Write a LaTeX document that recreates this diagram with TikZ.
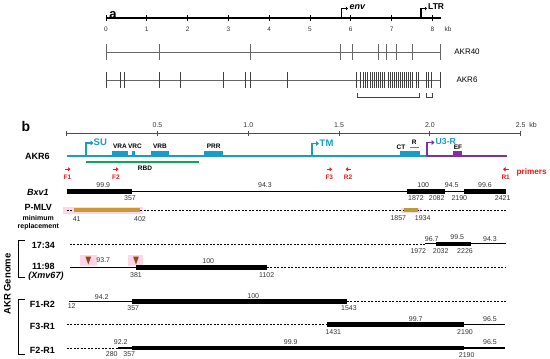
\documentclass[tikz,border=0pt]{standalone}
\usepackage{fontspec}
\setmainfont{Liberation Sans}
\usetikzlibrary{arrows.meta}

\definecolor{envteal}{RGB}{24,156,200}
\definecolor{ltrpurple}{RGB}{128,48,160}
\definecolor{rbdgreen}{RGB}{0,176,80}
\definecolor{pmlvgold}{RGB}{206,150,52}
\definecolor{pmlvolive}{RGB}{180,160,50}
\definecolor{hilite}{RGB}{255,214,232}
\definecolor{mutbrown}{RGB}{150,70,20}
\definecolor{primred}{RGB}{240,20,20}

% bp position on the panel b scale
\newcommand{\bp}[1]{66.7+0.1816*#1}

\tikzset{
  num/.style={font=\fontsize{7}{8}\selectfont, inner sep=0pt, text=black!80},
  rowlbl/.style={font=\bfseries\fontsize{9}{10}\selectfont, inner sep=0pt},
  dom/.style={font=\bfseries\fontsize{6.5}{7}\selectfont, inner sep=0pt},
  seg/.style={line width=1.2pt},
  bar/.style={line width=4.5pt},
  gap/.style={line width=0.6pt, dash pattern=on 2pt off 1.5pt},
  prom/.style={line width=1.8pt, -{Triangle[length=3pt,width=5pt]}},
  primer/.style={primred, line width=1.2pt, -{Triangle[length=2.5pt,width=4pt]}},
}

\begin{document}
\begin{tikzpicture}[x=1pt,y=-1pt]
\useasboundingbox (0,0) rectangle (550,359);

% panel a
\node[font=\bfseries\fontsize{13}{14}\selectfont] (pa) at (113,15) {a};
\draw[line width=1.3pt] (106,18) -- (441,18);
\foreach \k in {0,...,8} {
  \draw[line width=0.9pt] (106+40.8*\k,15) -- (106+40.8*\k,21);
  \node[num,font=\fontsize{6.5}{7}\selectfont] (kb\k) at (106+40.8*\k,29) {\k};
}
\node[num,font=\fontsize{6.5}{7}\selectfont] (kbunit) at (448,29) {kb};
\draw[line width=1.3pt,-{Triangle[length=2pt,width=3.5pt]}] (341.7,18) |- (348,8.5);
\node[font=\bfseries\itshape\fontsize{9}{10}\selectfont, anchor=west, inner sep=0pt] (env) at (349.5,7) {env};
\draw[line width=1.3pt,-{Triangle[length=2pt,width=3.5pt]}] (421,18) |- (427,8.5);
\node[font=\bfseries\fontsize{8.5}{10}\selectfont, anchor=west, inner sep=0pt] (ltr) at (428,7) {LTR};

\draw[black!60, line width=0.6pt] (106,52) -- (440.7,52);
\foreach \x in {106,159,250.3,340.3,352.7,378,386.3,396.3,412,440.7}
  \draw[black!60, line width=0.7pt] (\x,44) -- (\x,60);
\node[font=\fontsize{8}{9}\selectfont, inner sep=0pt] (akr40) at (467,52) {AKR40};

\draw[black!60, line width=0.6pt] (106,80) -- (440.7,80);
\foreach \x in {106,120.7,124.3,159,180.7,223,245.7,250,287.7,
  356.7,360.7,363.3,365.3,367.7,370,372,374,376,378,380,382,384,
  388.3,390.3,392.3,394.3,396.3,398.3,400.3,402.3,404.3,406.3,408.3,410.3,412.3,
  416,418.3,426.7,428.7,431.3,440.7}
  \draw[black!75, line width=0.7pt] (\x,72) -- (\x,88);
\node[font=\fontsize{8}{9}\selectfont, inner sep=0pt] (akr6a) at (467,80) {AKR6};
\draw[black!75, line width=0.7pt] (357.3,93) |- (419.3,97) -- (419.3,93);
\draw[black!75, line width=0.7pt] (426.7,93) |- (432.7,97) -- (432.7,93);

% panel b
\node[font=\bfseries\fontsize{14}{15}\selectfont] (pb) at (26,126) {b};
\draw[black!70, line width=0.8pt] ({\bp{0}},133.3) -- ({\bp{2500}},133.3);
\foreach \t/\lab in {0/{}, 500/0.5, 1000/1.0, 1500/1.5, 2000/2.0, 2500/2.5} {
  \draw[black!70, line width=0.8pt] ({\bp{\t}},130.8) -- ({\bp{\t}},135.8);
  \node[num] (sc\t) at ({\bp{\t}},125) {\lab};
}
\node[num] (kbb) at (533,125) {kb};

\node[rowlbl] (akr6) at (37.5,156.5) {AKR6};
\draw[envteal, line width=2.2pt] ({\bp{0}},155.7) -- (427.3,155.7);
\draw[ltrpurple, line width=2.2pt] (427.3,155.7) -- (507.3,155.7);
\foreach \a/\b in {111.7/127.7, 132.3/134.5, 150.7/169, 204.3/223.3, 400/420}
  \fill[envteal] (\a,151) rectangle (\b,156);
\fill[ltrpurple] (452.7,151) rectangle (461.7,156);
\draw[envteal, line width=1.2pt] (410,147.3) -- (418.7,147.3);
\node[dom] (vra) at (120,146.5) {VRA};
\node[dom] (vrc) at (135,146.5) {VRC};
\node[dom] (vrb) at (160,146.5) {VRB};
\node[dom] (prr) at (213.7,146.5) {PRR};
\node[dom] (ct) at (401,147.3) {CT};
\node[dom] (rr) at (414.3,142.3) {R};
\node[dom] (ef) at (458,147.6) {EF};

\draw[prom, envteal] (86,155.7) -- (86,143) -- (93.5,143);
\node[font=\bfseries\fontsize{9.5}{10}\selectfont, text=envteal, anchor=west, inner sep=0pt] (su) at (93.5,142.3) {SU};
\draw[prom, envteal] (311.7,155.7) -- (311.7,143.5) -- (319,143.5);
\node[font=\bfseries\fontsize{9.5}{10}\selectfont, text=envteal, anchor=west, inner sep=0pt] (tm) at (319.5,142.8) {TM};
\draw[prom, ltrpurple] (427.3,155.7) -- (427.3,142.5) -- (434.5,142.5);
\node[font=\bfseries\fontsize{8.7}{10}\selectfont, text=envteal, anchor=west, inner sep=0pt] (u3r) at (435.5,141.2) {U3-R};

\draw[rbdgreen, line width=2pt] (86,161.7) -- (199,161.7);
\node[dom] (rbd) at (145,167.8) {RBD};

% primers
\draw[primer] (65,169.3) -- (70.5,169.3);
\draw[primer] (113,169.3) -- (118.5,169.3);
\draw[primer] (326.5,169.3) -- (332,169.3);
\draw[primer] (351,169.3) -- (345.5,169.3);
\draw[primer] (508.5,169.3) -- (503,169.3);
\foreach \x/\p in {67.5/F1, 116/F2, 329.3/F3, 348/R2, 505.7/R1}
  \node[dom, text=primred] (pr\p) at (\x,177.5) {\p};
\node[font=\bfseries\fontsize{8.2}{9}\selectfont, text=primred, inner sep=0pt] (primers) at (531.7,172.5) {primers};

% Bxv1
\node[rowlbl, font=\bfseries\itshape\fontsize{9}{10}\selectfont] (bxv) at (38,192) {Bxv1};
\draw[seg] ({\bp{0}},191.7) -- ({\bp{2421}},191.7);
\foreach \a/\b in {0/357, 1872/2082, 2190/2421}
  \draw[bar] ({\bp{\a}},191.7) -- ({\bp{\b}},191.7);
\foreach \x/\v in {103.3/99.9, 265/94.3, 423.3/100, 451.7/94.5, 485/99.6}
  \node[num] at (\x,184.8) {\v};
\foreach \x/\v in {130/357, 416/1872, 436.7/2082, 459.3/2190, 502.7/2421}
  \node[num] at (\x,198.5) {\v};

% P-MLV
\node[rowlbl] (pmlv) at (38.3,207.5) {P-MLV};
\node[font=\bfseries\fontsize{7}{8}\selectfont, inner sep=0pt] (mini) at (38.3,218.3) {minimum};
\node[font=\bfseries\fontsize{7}{8}\selectfont, inner sep=0pt] (repl) at (38.3,227) {replacement};
\fill[hilite] (63,206.5) rectangle (142.7,213.5);
\fill[hilite] (401,207.5) rectangle (421,212.5);
\draw[gap] ({\bp{0}},210) -- ({\bp{2421}},210);
\draw[bar, pmlvgold] ({\bp{41}},210) -- ({\bp{402}},210);
\draw[bar, pmlvolive] ({\bp{1857}},210) -- ({\bp{1934}},210);
\foreach \x/\v/\y in {76.7/41/219.5, 140/402/219.5, 398.3/1857/217.7, 422.7/1934/217.7}
  \node[num] at (\x,\y) {\v};

% AKR genome
\node[rowlbl, font=\bfseries\fontsize{9.5}{10}\selectfont, rotate=90] (akrg) at (7.3,284) {AKR Genome};
\draw[line width=1pt] (25,240) -| (18.3,277.3) -- (25,277.3);
\draw[line width=1pt] (25,299.3) -| (18.3,354) -- (25,354);

% 17:34
\node[rowlbl] (r1734) at (43.3,245) {17:34};
\draw[gap] ({\bp{18}},243.8) -- ({\bp{1972}},243.8);
\draw[seg] ({\bp{1972}},243.8) -- ({\bp{2421}},243.8);
\draw[bar] ({\bp{2032}},243.8) -- ({\bp{2226}},243.8);
\foreach \x/\v/\y in {431.7/96.7/239.3, 457.3/99.5/236.8, 490/94.3/239.3}
  \node[num] at (\x,\y) {\v};
\foreach \x/\v in {418.3/1972, 440.7/2032, 465/2226}
  \node[num] at (\x,251) {\v};

% 11:98
\node[rowlbl] (r1198) at (43.3,266) {11:98};
\node[rowlbl, font=\bfseries\itshape\fontsize{9}{10}\selectfont] (xmv) at (46,276.5) {(Xmv67)};
\fill[hilite] (80,254.5) rectangle (96.5,265.5);
\fill[hilite] (128.3,254.5) rectangle (143.3,265.5);
\draw[seg] ({\bp{18}},267.7) -- ({\bp{381}},267.7);
\draw[bar] ({\bp{381}},267.7) -- ({\bp{1102}},267.7);
\draw[gap] ({\bp{1102}},267.7) -- ({\bp{2421}},267.7);
\fill[mutbrown] (85.4,256.5) -- (91.2,256.5) -- (88.3,264.5) -- cycle;
\fill[mutbrown] (133.1,256.5) -- (138.9,256.5) -- (136,264.5) -- cycle;
\node[num] at (103.3,260.5) {93.7};
\node[num] at (208.3,261.5) {100};
\node[num] at (136,275.3) {381};
\node[num] at (266.7,275.3) {1102};

% F1-R2
\node[rowlbl] (f1r2) at (42.5,304) {F1-R2};
\draw[seg] ({\bp{12}},301.7) -- ({\bp{357}},301.7);
\draw[bar] ({\bp{357}},301.7) -- ({\bp{1543}},301.7);
\draw[gap] ({\bp{1543}},301.7) -- ({\bp{2421}},301.7);
\node[num] at (101.7,296.8) {94.2};
\node[num] at (253.3,296.5) {100};
\node[num] at (71.7,305.7) {12};
\node[num] at (133.3,307.7) {357};
\node[num] at (349,308.5) {1543};

% F3-R1
\node[rowlbl] (f3r1) at (42.5,326.7) {F3-R1};
\draw[gap] ({\bp{0}},324.3) -- ({\bp{1431}},324.3);
\draw[bar] ({\bp{1431}},324.3) -- ({\bp{2190}},324.3);
\draw[seg] ({\bp{2190}},324.3) -- ({\bp{2415}},324.3);
\node[num] at (415.7,318.8) {99.7};
\node[num] at (490,319.3) {96.5};
\node[num] at (333.3,331.9) {1431};
\node[num] at (465,331.9) {2190};

% F2-R1
\node[rowlbl] (f2r1) at (42.5,350.7) {F2-R1};
\draw[gap] ({\bp{0}},348) -- ({\bp{280}},348);
\draw[seg] ({\bp{280}},348) -- ({\bp{2415}},348);
\draw[bar] ({\bp{357}},348) -- ({\bp{2190}},348);
\node[num] at (120.7,341.8) {92.2};
\node[num] at (290.7,341.8) {99.9};
\node[num] at (490,342.3) {96.5};
\node[num] at (111.7,353.7) {280};
\node[num] at (129.3,353.7) {357};
\node[num] at (466.7,355) {2190};
\end{tikzpicture}
\end{document}
